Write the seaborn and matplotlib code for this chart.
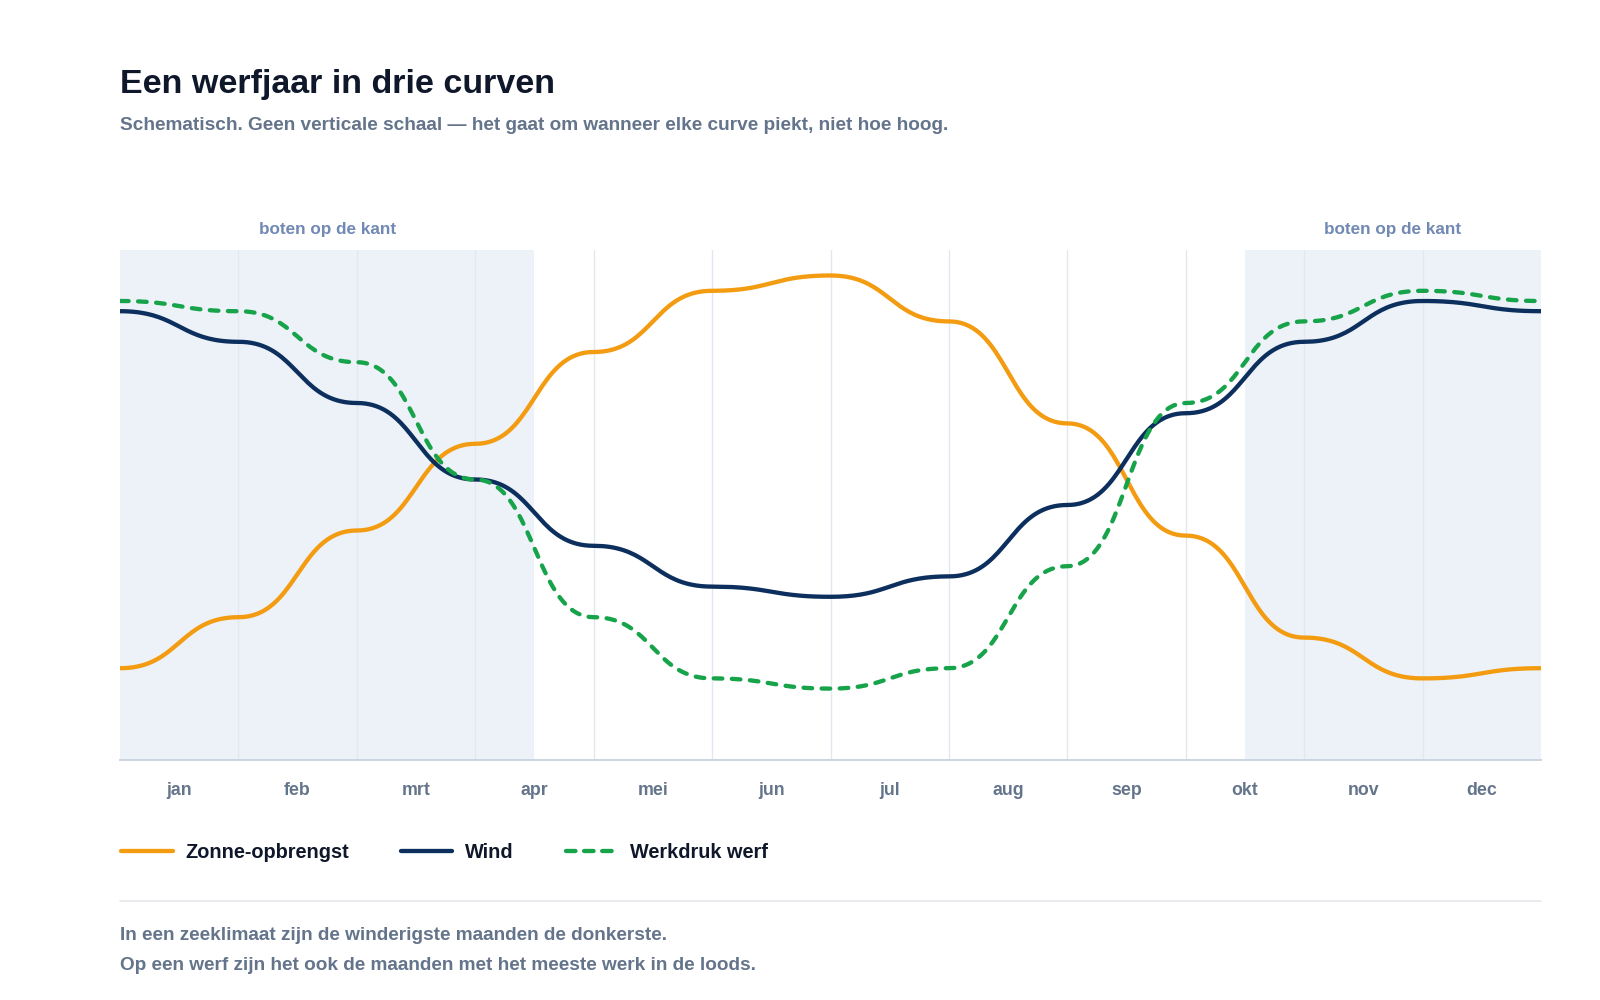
import numpy as np
import pandas as pd
import seaborn as sns
from matplotlib import pyplot as plt
from matplotlib.lines import Line2D

sns.set_theme(style="white")
plt.rcParams['font.family'] = ['Liberation Sans', 'DejaVu Sans']

# schematic month values, read at the month boundaries (jan 1 ... dec 31)
months = ["jan", "feb", "mrt", "apr", "mei", "jun", "jul", "aug", "sep", "okt", "nov", "dec"]
zon = [18, 28, 45, 62, 80, 92, 95, 86, 66, 44, 24, 16, 18]
wind = [88, 82, 70, 55, 42, 34, 32, 36, 50, 68, 82, 90, 88]
werk = [90, 88, 78, 55, 28, 16, 14, 18, 38, 70, 86, 92, 90]
series_names = ["Zonne-opbrengst", "Wind", "Werkdruk werf"]
series_colors = ["#f39c12", "#0c2f5e", "#16a34a"]
kant_spans = [(0, 3.5), (9.5, 12)]
kant_label = "boten op de kant"

TEXT_DARK = "#0f172a"
TEXT_MUTED = "#64748b"


def bump_curve(xs, ys, n=40):
    # cubic bezier with horizontal tangents at every point (like d3 curveBumpX)
    px, py = [xs[0]], [ys[0]]
    t = np.linspace(0, 1, n)[1:]
    for i in range(len(xs) - 1):
        x0, x1, y0, y1 = xs[i], xs[i + 1], ys[i], ys[i + 1]
        xm = (x0 + x1) / 2
        bx = (1 - t) ** 3 * x0 + 3 * (1 - t) ** 2 * t * xm + 3 * (1 - t) * t ** 2 * xm + t ** 3 * x1
        by = (1 - t) ** 3 * y0 + 3 * (1 - t) ** 2 * t * y0 + 3 * (1 - t) * t ** 2 * y1 + t ** 3 * y1
        px.extend(bx)
        py.extend(by)
    return px, py


x_pos = np.arange(len(zon))
frames = []
for name, vals in zip(series_names, [zon, wind, werk]):
    cx, cy = bump_curve(x_pos, vals)
    frames.append(pd.DataFrame({"x": cx, "y": cy, "serie": name}))
df = pd.concat(frames, ignore_index=True)

fig = plt.figure(figsize=(16, 10), dpi=100)
ax = fig.add_axes([120 / 1600, 1 - 760 / 1000, (1541 - 120) / 1600, 510 / 1000])

for a, b in kant_spans:
    ax.axvspan(a, b, color="#edf2f8", zorder=0, lw=0)
    ax.text((a + b) / 2, 1 + 16 / 510, kant_label, transform=ax.get_xaxis_transform(),
            ha="center", va="baseline", fontsize=12.3, fontweight="bold", color="#7189b4")

sns.lineplot(data=df, x="x", y="y", hue="serie", style="serie", hue_order=series_names,
             style_order=series_names, palette=series_colors,
             dashes={"Zonne-opbrengst": "", "Wind": "", "Werkdruk werf": (2, 2.2)},
             estimator=None, sort=False, lw=3.1, legend=False, ax=ax)
handles = list(ax.lines[:3])
for ln in handles:
    ln.set_solid_capstyle("round")
    ln.set_dash_capstyle("round")

ax.set_xlim(0, 12)
ax.set_ylim(0, 100)
ax.set_xticks(np.arange(12) + 0.5)
ax.set_xticklabels(months)
ax.set_xticks(np.arange(1, 12), minor=True)
ax.set_yticks([])
ax.grid(which="minor", axis="x", color="#e2e8f0", lw=1)
ax.set_axisbelow(True)
ax.tick_params(axis="x", which="both", length=0, pad=16, labelsize=12.8, labelcolor=TEXT_MUTED)
for lab in ax.get_xticklabels():
    lab.set_fontweight("bold")
ax.set_xlabel("")
ax.set_ylabel("")
for side in ["top", "left", "right"]:
    ax.spines[side].set_visible(False)
ax.spines["bottom"].set_color("#cbd5e1")
ax.spines["bottom"].set_linewidth(1.4)
ax.set_facecolor("white")

fig.text(120 / 1600, 1 - 93 / 1000, "Een werfjaar in drie curven", fontsize=24.5,
         fontweight="bold", color=TEXT_DARK, va="baseline")
fig.text(120 / 1600, 1 - 130 / 1000,
         "Schematisch. Geen verticale schaal \u2014 het gaat om wanneer elke curve piekt, niet hoe hoog.",
         fontsize=13.7, fontweight="bold", color=TEXT_MUTED, va="baseline")

leg_handles = [Line2D([0], [0], color=h.get_color(), lw=3.1, linestyle=h.get_linestyle(),
                      dash_capstyle="round", solid_capstyle="round") for h in handles]
leg_handles[2].set_dashes((2.2, 2.0))
leg = fig.legend(leg_handles, series_names, loc="center left",
                 bbox_to_anchor=(103 / 1600, 1 - 852 / 1000), ncol=3, frameon=False,
                 handlelength=2.6, handletextpad=0.65, columnspacing=2.6,
                 prop={"size": 14.3, "weight": "bold"})
for txt in leg.get_texts():
    txt.set_color(TEXT_DARK)

fig.add_artist(Line2D([120 / 1600, 1541 / 1600], [1 - 901 / 1000, 1 - 901 / 1000],
                      color="#e5e7eb", lw=1.2, transform=fig.transFigure))
fig.text(120 / 1600, 1 - 940 / 1000, "In een zeeklimaat zijn de winderigste maanden de donkerste.",
         fontsize=13.7, fontweight="bold", color=TEXT_MUTED, va="baseline")
fig.text(120 / 1600, 1 - 970 / 1000, "Op een werf zijn het ook de maanden met het meeste werk in de loods.",
         fontsize=13.7, fontweight="bold", color=TEXT_MUTED, va="baseline")

fig.savefig("out.png", dpi=100, facecolor="white")
